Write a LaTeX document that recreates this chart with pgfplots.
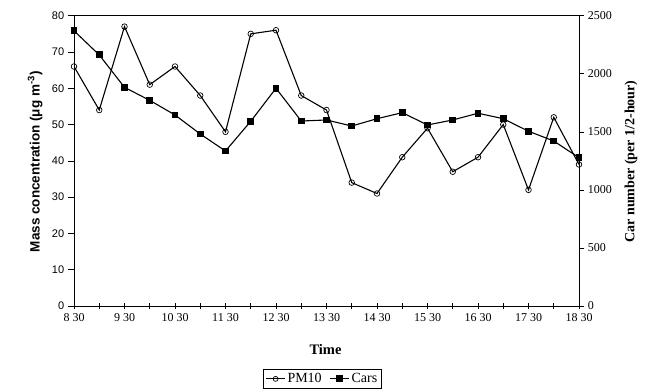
\documentclass[border=0pt]{standalone}
\usepackage{pgfplots}
\pgfplotsset{compat=1.18}
\usepackage{fontspec}
\setmainfont{Liberation Serif}
\newfontfamily\sansf{Liberation Sans}
\begin{document}
\begin{tikzpicture}[x=1pt,y=1pt]
\path[use as bounding box] (0,0) rectangle (653,391);
\pgfplotsset{every axis/.append style={
  scale only axis, width=505pt, height=290.3pt,
  at={(74pt,85pt)}, anchor=south west,
  xmin=0, xmax=20,
  /pgf/number format/assume math mode=true,
  line width=0.9pt,
}}
\begin{axis}[
  ymin=0, ymax=80, ytick={0,10,...,80},
  ytick pos=left, ytick align=outside, xtick align=center,
  xtick={0,2,...,20},
  xticklabels={8 30,9 30,10 30,11 30,12 30,13 30,14 30,15 30,16 30,17 30,18 30},
  minor xtick={1,3,...,19},
  xtick pos=bottom,
  major tick length=6pt, minor tick length=6pt,
  every tick/.style={black, line width=0.6pt},
  x tick label style={font=\fontsize{12}{14}\selectfont, yshift=-1pt},
  y tick label style={font=\sansf\fontsize{11}{13}\selectfont},
  xlabel={\textbf{Time}},
  xlabel style={font=\fontsize{14.5}{16}\selectfont, at={(axis description cs:0.498,-0.151)}, anchor=center},
  ylabel={\sansf\bfseries Mass concentration (μg m\textsuperscript{-3})},
  ylabel style={font=\fontsize{13.5}{15}\selectfont, at={(axis description cs:-0.077,0.497)}, anchor=center},
  axis line style={line width=0.9pt},
]
\addplot[black, line width=1.1pt, mark=o, mark size=2.8pt, mark options={fill=white, line width=0.7pt}]
coordinates {(0,66)(1,54)(2,77)(3,61)(4,66)(5,58)(6,48)(7,75)(8,76)(9,58)(10,54)(11,34)(12,31)(13,41)(14,49)(15,37)(16,41)(17,50)(18,32)(19,52)(20,39)};
\end{axis}
\begin{axis}[
  ymin=0, ymax=2500, ytick={0,500,...,2500},
  axis x line=none, axis y line*=right,
  tick align=outside,
  major tick length=5pt,
  every tick/.style={black, line width=0.6pt},
  y tick label style={font=\fontsize{12}{14}\selectfont, /pgf/number format/.cd, set thousands separator={}},
  ylabel={\textbf{Car number (per 1/2-hour)}},
  ylabel style={font=\fontsize{14}{16}\selectfont, at={(axis description cs:1.103,0.498)}, anchor=center},
  legend style={at={(0.492,-0.251)}, anchor=center, legend columns=2, draw=black, line width=0.6pt,
    font=\fontsize{14}{16}\selectfont, inner sep=2.5pt,
    /tikz/every even column/.append style={column sep=6pt}},
  legend image code/.code={\draw[#1, line width=0.8pt] (0pt,0pt) -- (19pt,0pt); \draw[#1, mark repeat=1] plot coordinates {(9.5pt,0pt)};},
]
\addlegendimage{black, mark=o, mark size=2.5pt, mark options={fill=white, line width=0.7pt}}
\addlegendentry{PM10}
\addplot[black, line width=1.1pt, mark=square*, mark size=2.9pt]
coordinates {(0,2370)(1,2162)(2,1883)(3,1771)(4,1645)(5,1481)(6,1335)(7,1591)(8,1875)(9,1593)(10,1602)(11,1550)(12,1613)(13,1665)(14,1559)(15,1602)(16,1660)(17,1613)(18,1505)(19,1421)(20,1277)};
\addlegendentry{Cars}
\end{axis}
\end{tikzpicture}
\end{document}
